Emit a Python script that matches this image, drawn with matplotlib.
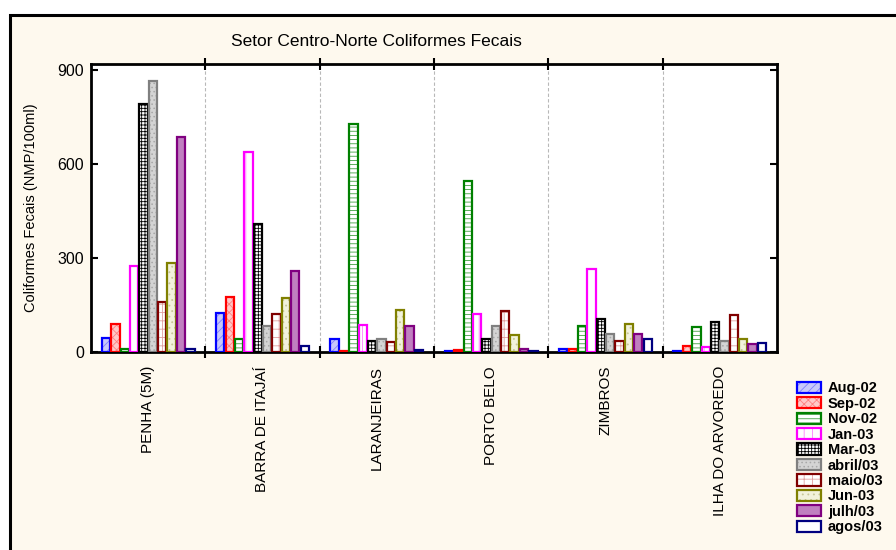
import numpy as np
import matplotlib
matplotlib.use("Agg")
import matplotlib.pyplot as plt
from matplotlib.patches import Rectangle
from matplotlib.legend_handler import HandlerTuple

plt.rcParams['font.family'] = ['Liberation Sans', 'DejaVu Sans']
plt.rcParams['hatch.linewidth'] = 0.6

# dados
locais = ["PENHA (5M)", "BARRA DE ITAJAÍ", "LARANJEIRAS", "PORTO BELO", "ZIMBROS", "ILHA DO ARVOREDO"]
meses = ["Aug-02", "Sep-02", "Nov-02", "Jan-03", "Mar-03", "abril/03", "maio/03", "Jun-03", "julh/03", "agos/03"]

aug02 = [44, 124, 43, 2, 10, 4]
sep02 = [89, 176, 2, 6, 10, 18]
nov02 = [8, 43, 727, 547, 83, 81]
jan03 = [274, 637, 85, 121, 266, 15]
mar03 = [792, 410, 34, 41, 106, 97]
abr03 = [865, 82, 43, 82, 57, 36]
mai03 = [159, 120, 31, 132, 34, 117]
jun03 = [285, 172, 135, 54, 89, 41]
jul03 = [685, 260, 83, 10, 57, 26]
ago03 = [10, 20, 7, 2, 43, 28]
series = [aug02, sep02, nov02, jan03, mar03, abr03, mai03, jun03, jul03, ago03]

# (fundo, cor da hachura, hachura, borda)
estilos = [
    ("#C8C8FA", "#8080FF", "////", "#0000FF"),
    ("#FFC8C8", "#FF8080", "xxxx", "#FF0000"),
    ("#FFFFFF", "#40A040", "----", "#008000"),
    ("#FFFFFF", "#FF80FF", "||", "#FF00FF"),
    ("#FFFFFF", "#000000", "+++++", "#000000"),
    ("#D4D4D4", "#A8A8A8", "....", "#808080"),
    ("#FFFFFF", "#E0A0A0", "++", "#800000"),
    ("#F2F2DC", "#C8C898", "...", "#808000"),
    ("#C080C0", None, None, "#800080"),
    ("#FFFFFF", None, None, "#000080"),
]

fig = plt.figure(figsize=(8.96, 5.5), dpi=100)
fig.patch.set_facecolor("white")
# painel de fundo creme com borda
fig.patches.append(Rectangle((10 / 896, -0.05), 1.0, 1 - 15 / 550 + 0.05, transform=fig.transFigure,
                             facecolor="#FEF9EE", edgecolor="black", linewidth=2.2, zorder=-5))

ax = fig.add_axes([91 / 896, 1 - 352 / 550, (777 - 91) / 896, (352 - 64) / 550])
ax.set_facecolor("white")

x = np.arange(len(locais))
passo = 0.082
largura = 0.073
handles = []
for i, (vals, (fc, hc, hatch, ec)) in enumerate(zip(series, estilos)):
    pos = x + (i - 4.5) * passo
    if hatch:
        ax.bar(pos, vals, largura, color=fc, edgecolor=hc, hatch=hatch, linewidth=0, zorder=2)
    else:
        ax.bar(pos, vals, largura, color=fc, linewidth=0, zorder=2)
    ax.bar(pos, vals, largura, fill=False, edgecolor=ec, linewidth=1.6, zorder=3)
    p1 = Rectangle((0, 0), 1, 1, facecolor=fc, edgecolor=hc if hatch else fc, hatch=hatch, linewidth=0)
    p2 = Rectangle((0, 0), 1, 1, fill=False, edgecolor=ec, linewidth=1.6)
    handles.append((p1, p2))

ax.set_xlim(-0.5, len(locais) - 0.5)
ax.set_ylim(0, 919)
ax.set_yticks([0, 300, 600, 900])
ax.tick_params(axis='y', direction='in', length=5, width=1.5, right=True, labelsize=11.5, pad=5)

ax.set_xticks(x)
ax.set_xticklabels(locais, rotation=90, fontsize=11)
ax.tick_params(axis='x', which='major', length=0, pad=10)
ax.set_xticks(np.arange(0.5, len(locais) - 0.5), minor=True)
ax.tick_params(axis='x', which='minor', direction='inout', length=8, width=1.5, top=True)
for b in np.arange(0.5, len(locais) - 0.5):
    ax.axvline(b, color="#B8B8B8", linestyle=(0, (3, 2)), linewidth=0.8, zorder=1)

for s in ax.spines.values():
    s.set_linewidth(2)

ax.set_ylabel("Coliformes Fecais (NMP/100ml)", fontsize=10.5, labelpad=14)
fig.text(376 / 896, 1 - 42 / 550, "Setor Centro-Norte Coliformes Fecais", ha="center", va="center", fontsize=12.5)

leg = fig.legend(handles, meses, handler_map={tuple: HandlerTuple(ndivide=1)},
                 loc="upper left", bbox_to_anchor=(790 / 896, 1 - 374 / 550), frameon=False,
                 prop={'weight': 'bold', 'size': 10.5}, handlelength=1.6, handleheight=0.8,
                 labelspacing=0.1, handletextpad=0.5, borderpad=0)

fig.savefig("out.png", dpi=100)
